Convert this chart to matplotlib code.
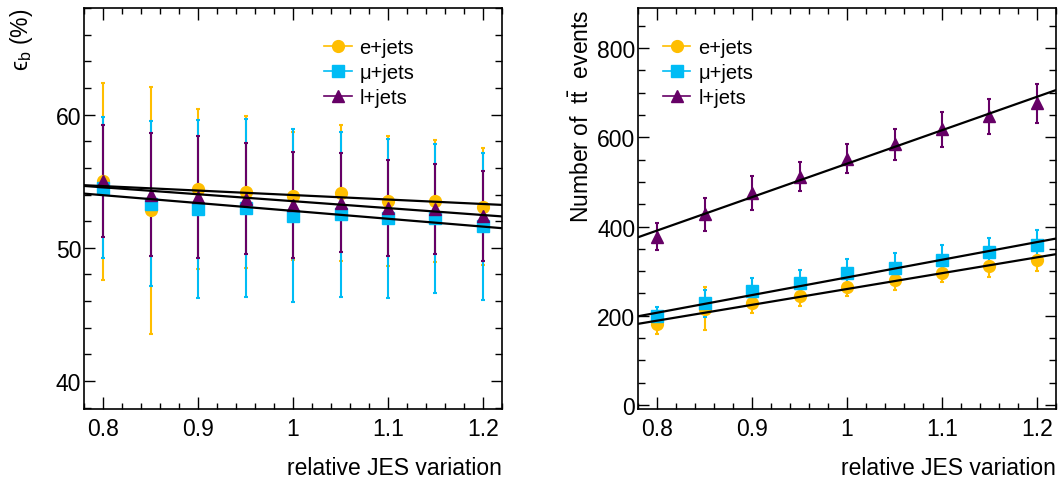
import numpy as np
import matplotlib
matplotlib.use("Agg")
import matplotlib.pyplot as plt
from matplotlib.ticker import MultipleLocator, FixedLocator
from matplotlib.lines import Line2D

plt.rcParams['font.family'] = ['Liberation Sans', 'DejaVu Sans']
plt.rcParams['mathtext.fontset'] = 'custom'
plt.rcParams['mathtext.rm'] = 'Liberation Sans'
plt.rcParams['mathtext.it'] = 'Liberation Sans:italic'
plt.rcParams['mathtext.fallback'] = 'stixsans'

# ---------------- data ----------------
jes = [0.80, 0.85, 0.90, 0.95, 1.00, 1.05, 1.10, 1.15, 1.20]
series_names = ["e+jets", "\u03bc+jets", "l+jets"]

# b-tagging efficiency (%)
eff_e = [55.0, 52.8, 54.4, 54.2, 53.9, 54.1, 53.5, 53.5, 53.1]
eff_e_err = [7.4, 9.3, 6.0, 5.7, 4.8, 5.1, 4.9, 4.6, 4.4]
eff_mu = [54.5, 53.3, 52.9, 53.0, 52.4, 52.5, 52.2, 52.2, 51.6]
eff_mu_err = [5.3, 6.2, 6.7, 6.7, 6.5, 6.2, 6.0, 5.6, 5.5]
eff_l = [55.0, 54.0, 53.8, 53.7, 53.2, 53.4, 53.0, 52.9, 52.4]
eff_l_err = [4.2, 4.6, 4.6, 4.2, 4.0, 3.7, 3.6, 3.4, 3.4]

# fitted lines: value at JES = 1 and slope
eff_fit_e = (53.96, -3.36)
eff_fit_mu = (52.77, -5.9)
eff_fit_l = (53.5, -5.2)

# number of ttbar events
n_e = [182, 216, 229, 245, 264, 280, 297, 311, 325]
n_e_err = [22, 48, 23, 22, 20, 22, 22, 25, 25]
n_mu = [199, 228, 255, 274, 295, 308, 326, 343, 358]
n_mu_err = [20, 30, 30, 29, 33, 33, 33, 31, 35]
n_l = [377, 428, 475, 512, 552, 584, 618, 647, 676]
n_l_err = [30, 37, 38, 33, 32, 35, 39, 40, 44]

n_fit_e = (260, 355)
n_fit_mu = (286, 396)
n_fit_l = (541, 750)

# ---------------- style ----------------
c_e = '#FFBE00'
c_mu = '#00BCF5'
c_l = '#660066'
markers = ['o', 's', '^']
colors = [c_e, c_mu, c_l]
msize = [8.5, 8.5, 9]

fig = plt.figure(figsize=(10.6, 4.81), dpi=100)
ax1 = fig.add_axes([84/1060, 71/481, 418/1060, 401/481])
ax2 = fig.add_axes([638/1060, 71/481, 418/1060, 401/481])

xfit = np.array([0.78, 1.22])


def draw(ax, ys, errs, fits, legend_x):
    for y, e, c, m, ms, name in zip(ys, errs, colors, markers, msize, series_names):
        ax.errorbar(jes, y, yerr=e, fmt=m, color=c, ms=ms, mec=c,
                    elinewidth=1.5, capsize=1.5, capthick=1.5, label=name,
                    zorder=3)
    for a, b in fits:
        ax.plot(xfit, a + b * (xfit - 1.0), color='black', lw=1.6, zorder=5)
    lh = [Line2D([], [], color=c, marker=m, ms=ms, lw=1.2, mec=c)
          for c, m, ms in zip(colors, markers, msize)]
    ax.legend(lh, series_names, loc='upper left',
              bbox_to_anchor=legend_x, frameon=False, fontsize=14.5,
              handlelength=1.35, handletextpad=0.4, labelspacing=0.3,
              borderpad=0.0, borderaxespad=0.0)
    ax.set_xlim(0.78, 1.22)
    ax.xaxis.set_major_locator(FixedLocator([0.8, 0.9, 1.0, 1.1, 1.2]))
    ax.xaxis.set_minor_locator(MultipleLocator(0.02))
    ax.set_xticklabels(['0.8', '0.9', '1', '1.1', '1.2'])
    ax.tick_params(axis='both', which='both', direction='in', top=True,
                   right=True, labelsize=16.5, width=1.0)
    ax.tick_params(axis='x', which='major', length=8.6, pad=6)
    ax.tick_params(axis='x', which='minor', length=4.3)
    ax.tick_params(axis='y', which='major', length=8.0, pad=2)
    ax.tick_params(axis='y', which='minor', length=5.0)
    for s in ax.spines.values():
        s.set_linewidth(1.2)
    ax.set_xlabel('relative JES variation', fontsize=16.5, loc='right',
                  labelpad=11)


draw(ax1, [eff_e, eff_mu, eff_l], [eff_e_err, eff_mu_err, eff_l_err],
     [eff_fit_e, eff_fit_mu, eff_fit_l], (0.575, 0.925))
ax1.set_ylim(37.9, 68.0)
ax1.yaxis.set_major_locator(MultipleLocator(10))
ax1.yaxis.set_minor_locator(MultipleLocator(2))
ax1.set_ylabel('$\\mathrm{\u03f5}_{\\rm b}$ (%)', fontsize=16.5, loc='top',
               labelpad=15)

draw(ax2, [n_e, n_mu, n_l], [n_e_err, n_mu_err, n_l_err],
     [n_fit_e, n_fit_mu, n_fit_l], (0.06, 0.925))
ax2.set_ylim(-9, 890)
ax2.yaxis.set_major_locator(MultipleLocator(200))
ax2.yaxis.set_minor_locator(MultipleLocator(50))
ax2.set_ylabel(r'Number of  t$\bar{\rm t}$  events', fontsize=16.5,
               loc='top', labelpad=2)

fig.savefig('out.png', dpi=100)
